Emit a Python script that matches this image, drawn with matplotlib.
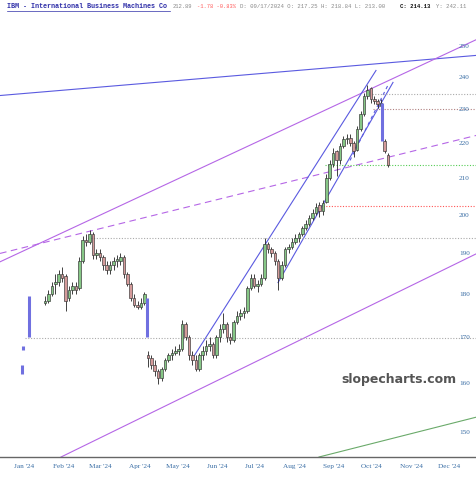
# Importamos numpy y pandas para preparar los datos
import numpy as np
import pandas as pd
# Usamos un backend sin ventana porque no hay pantalla
import matplotlib
matplotlib.use('Agg')
import matplotlib.pyplot as plt
from matplotlib.lines import Line2D
from matplotlib.ticker import FixedLocator, FuncFormatter, NullLocator

# Velas de IBM (apertura, máximo, mínimo, cierre)
aperturas = [178, 178.5, 180, 182.5, 183, 185, 184.5, 179, 181, 182,
             181.5, 188, 193.5, 193, 195, 189.5, 190, 189, 187, 186,
             187, 188, 188, 189, 185, 182.5, 179, 177.5, 177, 178,
             166, 165.5, 164, 162.5, 161, 163, 165, 166, 166.5, 167,
             167.5, 173, 170, 166, 165, 163, 166, 167, 168, 168.5,
             166, 170, 172, 173, 170, 169.5, 173.5, 175, 175.5, 176,
             181.5, 184, 182, 182.5, 184, 192.5, 191, 190, 188, 184,
             187, 191, 191.5, 193, 194, 195, 196.5, 197.5, 199, 200.5,
             202.5, 201, 203.5, 210, 214, 217.5, 215, 219, 221, 221.5,
             220, 218, 224, 228.5, 234, 236.5, 233, 232.5, 231, 220.5,
             216.5]
maximos = [179.5, 181, 183, 185, 186, 186.5, 185, 182, 183, 183,
           189, 194.5, 195, 196, 195.5, 191, 191, 189.5, 188, 188,
           189, 189.5, 190, 189.5, 185.5, 183, 180, 178.5, 179, 180.5,
           167, 166, 165, 163, 163.5, 165.5, 166.5, 167.5, 168, 168.5,
           174, 173.5, 170.5, 167, 166, 166.5, 168, 169.5, 170, 169,
           170.5, 173, 175.5, 173.5, 171, 174, 176, 176.5, 177, 182,
           185, 185, 183.5, 185, 194, 193, 191.5, 190.5, 188.5, 188,
           191.5, 192.5, 194, 195, 195.5, 197, 198.5, 200, 201.5, 203,
           203.5, 204, 211, 215, 218.5, 218, 220, 222, 222.5, 222.5,
           220.5, 225, 229.5, 235, 237.5, 237, 234, 233, 233, 221,
           217]
minimos = [177.5, 178, 179.5, 180, 182, 183, 176, 178.5, 180, 180,
           181, 187.5, 192, 192.5, 188.5, 188.5, 188, 186, 185, 185,
           186, 186.5, 187, 184, 182, 178.5, 177, 176.5, 176.5, 177.5,
           163.5, 163, 161.5, 159.8, 160.5, 162.5, 164.5, 165, 166, 166,
           167, 169.5, 165, 164, 162.5, 162.5, 165, 166, 167, 165.5,
           165.5, 169, 171, 169, 168.5, 169, 173, 174, 174.5, 175.5,
           181, 181.5, 180.5, 182, 183.5, 190, 189, 187, 181, 183.5,
           186.5, 190, 191, 192.5, 193, 194.5, 196, 197, 198.5, 200,
           199.5, 200, 203, 209.5, 213, 210.5, 214, 218.5, 219.5, 219,
           216, 217.5, 223.5, 228, 233, 232, 231.5, 230.5, 230, 217,
           213]
cierres = [178.5, 180, 182, 183, 185, 184, 178.5, 181, 182, 181,
           188, 193.5, 193, 195, 189.5, 190, 189, 187, 186, 187,
           188, 188.5, 189, 185, 182.5, 179, 177.5, 177, 178, 180,
           165.5, 164, 162.5, 161, 163, 165, 166, 166.5, 167, 167.5,
           173, 170, 166, 165, 163, 166, 167, 168, 168.5, 166,
           170, 172, 173, 170, 169.5, 173.5, 175, 175.5, 176, 181.5,
           184, 182, 182.5, 184, 192.5, 191, 190, 188, 184, 187,
           191, 191.5, 193, 194, 195, 196.5, 197.5, 199, 200.5, 202,
           201, 203, 210, 214, 217, 215, 219, 221, 221.5, 220,
           217.5, 224, 228.5, 234, 236, 233, 232.5, 231.5, 232, 217.5,
           213.5]

# Barras azules de hueco (día del año, precio desde, precio hasta)
hueco_dias = [-1.6, -0.8, 3.9, 96.9, 282.5]
hueco_desde = [164, 168, 179.5, 179, 232]
hueco_hasta = [162, 167.3, 170, 170, 220.5]

# Líneas de tendencia: (día inicial, día final) y (precio inicial, precio final)
tendencia_dias = [(-18.9, 357.0), (-18.9, 357.0), (-18.9, 357.0), (29.2, 357.0),
                  (232.5, 357.0), (133.2, 277.4), (200.2, 290.8), (256.9, 286.8)]
tendencia_precios = [(234.2, 247.0), (187.9, 252.3), (190.0, 222.2), (145.1, 190.0),
                     (145.1, 153.0), (165.5, 242.1), (182.8, 238.3), (214.9, 237.4)]
tendencia_colores = ['#5a5ae0', '#b566e6', '#b566e6', '#b566e6',
                     '#6aaa6a', '#5a5ae0', '#5a5ae0', '#5a5ae0']
tendencia_estilos = ['-', '-', (0, (6, 4)), '-', '-', '-', '-', (0, (3, 3))]

# Niveles horizontales punteados (precio, día de inicio, color)
niveles = [234.8, 230.0, 213.5, 202.2, 194.0, 169.9]
niveles_inicio = [274, 275, 237, 236, 50.4, 0.8]
niveles_colores = ['#aaaaaa', '#b08080', '#55cc55', '#ff5555', '#aaaaaa', '#aaaaaa']

# Etiquetas de los ejes
meses = ['Jan', 'Feb', 'Mar', 'Apr', 'May', 'Jun', 'Jul', 'Aug', 'Sep', 'Oct', 'Nov', 'Dec']
precios_eje = [150, 160, 170, 180, 190, 200, 210, 220, 230, 240, 250]

# Posición de cada vela en días desde el 1 de enero
dia_inicial = 16.55
paso = 2.703
x_velas = dia_inicial + paso * np.arange(len(cierres))

fig = plt.figure(figsize=(4.77, 4.80), dpi=100)
ax = fig.add_axes([0, 23 / 480, 1, 443 / 480])
ax.set_yscale('log')

# Líneas de tendencia
for d, p, c, s in zip(tendencia_dias, tendencia_precios, tendencia_colores, tendencia_estilos):
    ax.plot(d, p, color=c, linestyle=s, linewidth=0.8, zorder=1)

# Niveles horizontales
for nivel, inicio, color in zip(niveles, niveles_inicio, niveles_colores):
    ax.plot([inicio, 357], [nivel, nivel], color=color, linestyle=(0, (1, 1.5)),
            linewidth=0.8, zorder=1)

# Velas: mechas y cuerpos
abre = np.array(aperturas)
cierra = np.array(cierres)
sube = cierra >= abre
ax.vlines(x_velas, minimos, maximos, color='#222222', linewidth=0.6, zorder=2)
base = np.minimum(abre, cierra)
alto = np.maximum(np.abs(cierra - abre), 0.3)
colores = np.where(sube, '#86c786', '#d49a9a')
ax.bar(x_velas, alto, bottom=base, width=2.0, color=colores,
       edgecolor='#333333', linewidth=0.45, zorder=3)

# Barras azules de los huecos
ax.vlines(hueco_dias, hueco_hasta, hueco_desde, color='#7070e0', linewidth=2.2, zorder=4)

# Ejes
ax.set_xlim(-18.9, 357.0)
ax.set_ylim(145.1, 260.9)
dias_mes = [(pd.Timestamp(f'2024-{i + 1:02d}-01') - pd.Timestamp('2024-01-01')).days
            for i in range(12)]
ax.set_xticks(dias_mes)
ax.set_xticklabels([f"{m} '24" for m in meses])
ax.yaxis.set_major_locator(FixedLocator(precios_eje))
ax.yaxis.set_major_formatter(FuncFormatter(lambda v, pos: f'{v:.0f}'))
ax.yaxis.set_minor_locator(NullLocator())
ax.tick_params(axis='x', length=0, pad=5, labelsize=5.2, labelcolor='#3a6ea5')
ax.tick_params(axis='y', left=False, labelleft=False, right=True, labelright=True,
               length=0, pad=-13, labelsize=5.2, labelcolor='#3a6ea5')
for etiqueta in ax.get_xticklabels() + ax.get_yticklabels():
    etiqueta.set_fontfamily('Liberation Serif')
for lado in ['top', 'left', 'right']:
    ax.spines[lado].set_visible(False)
ax.spines['bottom'].set_color('#666666')
ax.spines['bottom'].set_linewidth(1.0)

# Marca de agua
ax.text(399 / 477, (457 - 379) / 443, 'slopecharts.com', transform=ax.transAxes,
        ha='center', va='center', fontsize=9, fontweight='bold', color='#555555',
        family='DejaVu Sans')

# Cabecera con el nombre y los datos del día
y_cab = 1 - 7 / 480
fig.text(7 / 477, y_cab, 'IBM - International Business Machines Co', color='#2e2ea8',
         fontsize=4.9, fontweight='bold', family='Liberation Mono', va='center')
fig.add_artist(Line2D([7 / 477, 170 / 477], [1 - 11 / 480, 1 - 11 / 480],
                      color='#2e2ea8', linewidth=0.5))
fig.text(173 / 477, y_cab, '212.89', color='#888888', fontsize=4.0,
         family='Liberation Mono', va='center')
fig.text(197 / 477, y_cab, '-1.78 -0.83%', color='#ff5a5a', fontsize=3.9,
         family='Liberation Mono', va='center')
fig.text(240 / 477, y_cab, 'D: 09/17/2024 O: 217.25 H: 218.84 L: 213.00', color='#888888',
         fontsize=4.1, family='Liberation Mono', va='center')
fig.text(400 / 477, y_cab, 'C: 214.13', color='#111111', fontsize=4.1, fontweight='bold',
         family='Liberation Mono', va='center')
fig.text(436 / 477, y_cab, 'Y: 242.11', color='#888888', fontsize=4.1,
         family='Liberation Mono', va='center')

fig.savefig('out.png', dpi=100)
